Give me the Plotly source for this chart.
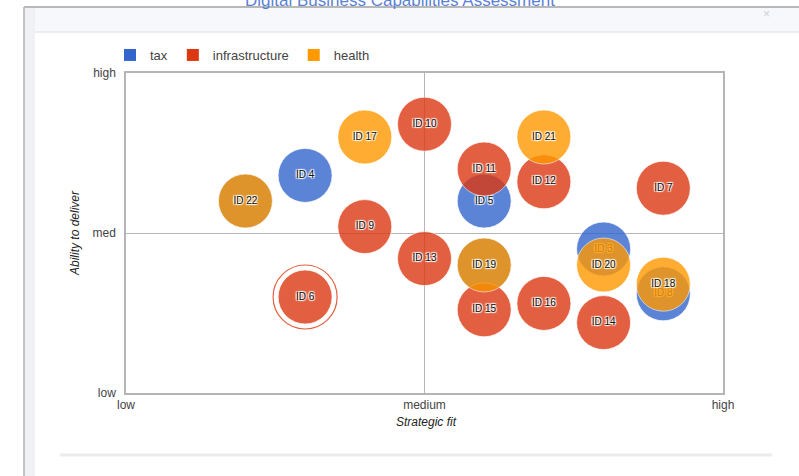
import plotly.graph_objects as go

# ---- data ----
series_names = ["tax", "infrastructure", "health"]
series_colors = ["#3366cc", "#dc3912", "#ff9900"]

# tax bubbles: the first four sit (partly) underneath health bubbles
tax_ids = ["ID 1", "ID 2", "ID 3", "ID 8", "ID 4", "ID 5"]
tax_labels = ["", "", "ID 3", "ID 8", "ID 4", "ID 5"]
tax_fit = [2, 6, 8, 9, 3, 6]
tax_ability = [6.0, 4.0, 4.5, 3.1, 6.8, 6.0]

infra_ids = ["ID 6", "ID 7", "ID 9", "ID 10", "ID 11", "ID 12", "ID 13", "ID 14", "ID 15", "ID 16"]
infra_fit = [3, 9, 4, 5, 6, 7, 5, 8, 6, 7]
infra_ability = [3.0, 6.4, 5.2, 8.4, 7.0, 6.6, 4.2, 2.2, 2.6, 2.8]

health_ids = ["ID 17", "ID 18", "ID 19", "ID 20", "ID 21", "ID 22"]
health_fit = [4, 9, 6, 8, 7, 2]
health_ability = [8.0, 3.4, 4.0, 4.0, 8.0, 6.0]

highlight_id = "ID 6"

axis_tickvals = [0, 5, 10]
x_ticktext = ["low", "medium", "high"]
y_ticktext = ["low", "med", "high"]

title_text = "Digital Business Capabilities Assessment"
x_title = "Strategic fit"
y_title = "Ability to deliver"

# ---- figure ----
W, H = 799, 476
L, R, T, B = 126, 723, 73, 393
FONT = "Liberation Sans, Arial, sans-serif"

fig = go.Figure()

groups = [
    (tax_ids, tax_labels, tax_fit, tax_ability),
    (infra_ids, infra_ids, infra_fit, infra_ability),
    (health_ids, health_ids, health_fit, health_ability),
]

for (ids, labels, xs, ys), name, col in zip(groups, series_names, series_colors):
    fig.add_trace(go.Scatter(
        x=xs, y=ys, text=labels, hovertext=ids, mode="markers+text", name=name,
        showlegend=False, hoverinfo="text+name",
        marker=dict(size=54, color=col, opacity=0.8,
                    line=dict(color="rgba(255,255,255,0.7)", width=1)),
        textposition="middle center",
        textfont=dict(family=FONT, size=10, color="#111",
                      shadow="1px 1px 1px #fff, -1px -1px 1px #fff, 1px -1px 1px #fff, -1px 1px 1px #fff"),
    ))
    # highlight ring
    if highlight_id in ids:
        i = ids.index(highlight_id)
        fig.add_trace(go.Scatter(
            x=[xs[i]], y=[ys[i]], mode="markers", showlegend=False, hoverinfo="skip",
            marker=dict(size=64, symbol="circle-open", color=col, opacity=0.8,
                        line=dict(color=col, width=1.2)),
        ))

# legend entries (square swatches)
for name, col in zip(series_names, series_colors):
    fig.add_trace(go.Scatter(
        x=[None], y=[None], mode="markers", name=name, showlegend=True,
        marker=dict(symbol="square", size=12, color=col),
    ))

def px(xp):
    return (xp - L) / (R - L)

def py(yp):
    return (B - yp) / (B - T)

shapes = [
    # header band
    dict(type="rect", xref="paper", yref="paper", x0=px(25), x1=px(799), y0=py(8), y1=py(32),
         fillcolor="#f6f8fb", line=dict(width=0), layer="below"),
    dict(type="line", xref="paper", yref="paper", x0=px(25), x1=px(799), y0=py(32), y1=py(32),
         line=dict(color="#e6e8ec", width=1.5), layer="below"),
    # left strip
    dict(type="rect", xref="paper", yref="paper", x0=px(25), x1=px(35), y0=py(8), y1=py(476),
         fillcolor="#eff1f4", line=dict(width=0), layer="below"),
    # outer frame
    dict(type="line", xref="paper", yref="paper", x0=px(24), x1=px(799), y0=py(7), y1=py(7),
         line=dict(color="#b8b8b8", width=2)),
    dict(type="line", xref="paper", yref="paper", x0=px(24), x1=px(24), y0=py(7), y1=py(476),
         line=dict(color="#c4c4c4", width=2)),
    # bottom divider
    dict(type="line", xref="paper", yref="paper", x0=px(60), x1=px(772), y0=py(455), y1=py(455),
         line=dict(color="#ebebeb", width=3), layer="below"),
]

annotations = [
    dict(text=title_text, xref="paper", yref="paper", x=px(400), y=py(1),
         xanchor="center", yanchor="middle", showarrow=False,
         font=dict(family=FONT, size=17, color="#5b82d6")),
    dict(text="×", xref="paper", yref="paper", x=px(766), y=py(14),
         xanchor="center", yanchor="middle", showarrow=False,
         font=dict(family=FONT, size=12, color="#d0d3d8")),
    dict(text=x_title, xref="paper", yref="paper", x=px(426), y=py(422),
         xanchor="center", yanchor="middle", showarrow=False,
         font=dict(family=FONT, size=12, color="#222", style="italic")),
    dict(text=y_title, xref="paper", yref="paper", x=px(75), y=py(233),
         xanchor="center", yanchor="middle", showarrow=False, textangle=-90,
         font=dict(family=FONT, size=12, color="#222", style="italic")),
]

fig.update_layout(
    width=W, height=H,
    margin=dict(l=L, r=W - R, t=T, b=H - B, pad=0),
    paper_bgcolor="white", plot_bgcolor="white",
    font=dict(family=FONT, size=12, color="#444"),
    shapes=shapes, annotations=annotations,
    showlegend=True,
    legend=dict(orientation="h", x=px(110), y=py(55), xanchor="left", yanchor="middle",
                font=dict(family=FONT, size=13, color="#444"),
                bgcolor="rgba(0,0,0,0)", itemclick=False),
)
fig.update_xaxes(range=[0, 10], tickvals=axis_tickvals, ticktext=x_ticktext,
                 showgrid=True, gridcolor="#b5b5b5", gridwidth=1,
                 zeroline=False, showline=True, linecolor="#b5b5b5", linewidth=1.5, mirror=True,
                 ticks="", tickfont=dict(size=12, color="#444"), fixedrange=True)
fig.update_yaxes(range=[0, 10], tickvals=axis_tickvals, ticktext=y_ticktext,
                 showgrid=True, gridcolor="#b5b5b5", gridwidth=1,
                 zeroline=False, showline=True, linecolor="#b5b5b5", linewidth=1.5, mirror=True,
                 ticks="", ticklabelstandoff=6, tickfont=dict(size=12, color="#444"), fixedrange=True)

fig.write_html("out.html", config=dict(displayModeBar=False),
               post_script="document.body.style.margin='0px';document.body.style.overflow='hidden';")
